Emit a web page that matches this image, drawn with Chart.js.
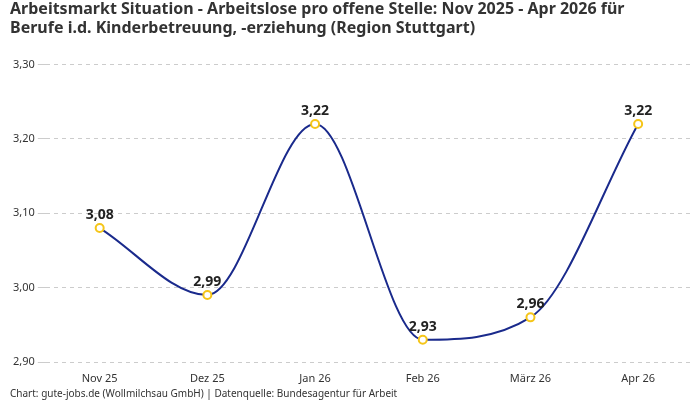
<!DOCTYPE html>
<html><head><meta charset="utf-8">
<script src="https://cdn.jsdelivr.net/npm/chart.js@4"></script>
<style>body{margin:0;background:#fff}#w{width:700px;height:400px;position:relative}</style>
</head><body><div id="w"><canvas id="c"></canvas></div>
<script>
const categories=["Nov 25","Dez 25","Jan 26","Feb 26","März 26","Apr 26"];
const values=[3.08,2.99,3.22,2.93,2.96,3.22];
const fmt=v=>v.toFixed(2).replace('.',',');
const labelPlugin={id:'lbl',afterDatasetsDraw(ch){const ctx=ch.ctx;const m=ch.getDatasetMeta(0);ctx.save();ctx.font='bold 14px "Noto Sans", sans-serif';ctx.fillStyle='#222';ctx.textAlign='center';ctx.textBaseline='bottom';m.data.forEach((p,i)=>ctx.fillText(fmt(values[i]),p.x,p.y-6));ctx.restore();}};
new Chart(document.getElementById('c'),{type:'line',
data:{labels:categories,datasets:[{data:values,borderColor:'#1a2a8c',borderWidth:2,tension:0.4,cubicInterpolationMode:'monotone',pointRadius:4,pointBorderWidth:2,pointBackgroundColor:'#fff',pointBorderColor:'#f5c518'}]},
options:{responsive:true,maintainAspectRatio:false,animation:false,
layout:{padding:{left:10,right:8,top:0,bottom:0}},
plugins:{legend:{display:false},tooltip:{enabled:false},
title:{display:true,align:'start',text:['Arbeitsmarkt Situation - Arbeitslose pro offene Stelle: Nov 2025 - Apr 2026 für','Berufe i.d. Kinderbetreuung, -erziehung (Region Stuttgart)'],color:'#333',font:{size:16,weight:'bold',family:'"Noto Sans", sans-serif'},padding:{top:0,bottom:26}},
subtitle:{display:true,position:'bottom',align:'start',text:'Chart: gute-jobs.de (Wollmilchsau GmbH) | Datenquelle: Bundesagentur für Arbeit',color:'#333',font:{size:10,family:'"Noto Sans", sans-serif'},padding:{top:0,bottom:0}}},
scales:{x:{offset:true,afterFit:s=>{s.height=26;},grid:{display:false},border:{display:false},ticks:{padding:2,color:'#333',font:{size:11,family:'"Noto Sans", sans-serif'}}},
y:{min:2.9,max:3.3,ticks:{stepSize:0.1,callback:v=>fmt(v),color:'#333',font:{size:11,family:'"Noto Sans", sans-serif'}},border:{display:false,dash:[4,4]},grid:{color:'#ccc'}}}},
plugins:[labelPlugin]});
</script></body></html>
